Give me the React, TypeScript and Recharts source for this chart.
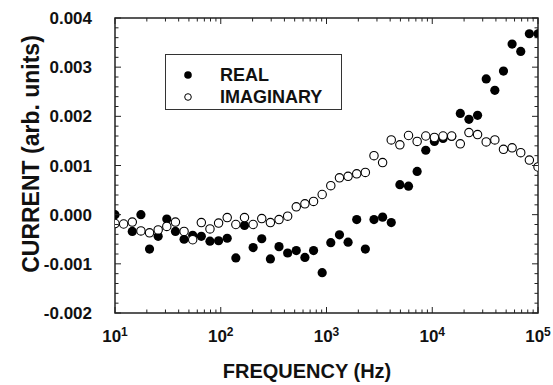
import { ScatterChart, Scatter, XAxis, YAxis, Legend, ReferenceArea } from 'recharts'

// frequencies (Hz)
const freq = [
  10, 12.07, 14.57, 17.58, 21.21, 25.6, 30.89, 37.28, 44.99, 54.29,
  65.52, 79.07, 95.41, 115.1, 138.9, 167.7, 202.4, 244.2, 294.7, 355.6,
  429.2, 517.9, 625.0, 754.3, 910.2, 1098, 1326, 1600, 1931, 2330,
  2812, 3393, 4095, 4942, 5964, 7197, 8685, 10481, 12649, 15264,
  18420, 22230, 26827, 32375, 39070, 47149, 56899, 68665, 82864, 100000,
]

// filled circles (null = not visible in the figure)
const real = [
  0.0, null, -0.00034, 0.0, -0.0007, -0.00044, -0.00009, -0.00034, -0.0005, -0.00042,
  -0.00044, -0.00054, -0.00053, -0.00048, -0.00088, -0.00022, -0.00067, -0.00049, -0.0009, -0.00065,
  -0.00078, -0.00073, -0.00087, -0.00073, -0.00118, -0.00057, -0.00041, -0.00056, -0.0001, -0.0007,
  -0.0001, -0.00005, -0.00016, 0.00061, 0.00058, 0.00088, 0.00131, 0.00149, 0.00155, 0.00159,
  0.00206, 0.00194, 0.00202, 0.00276, 0.00253, 0.00292, 0.00347, 0.00332, 0.00368, 0.00368,
]

// open circles
const imaginary = [
  -0.00018, -0.00019, -0.00015, -0.00033, -0.00037, -0.00031, -0.00024, -0.00015, -0.00034, -0.00051,
  -0.00016, -0.00029, -0.00017, -0.00006, -0.0002, -0.00006, -0.0002, -0.00008, -0.00016, -0.0001,
  -0.00003, 0.00016, 0.00022, 0.00027, 0.00041, 0.00059, 0.00075, 0.00078, 0.00083, 0.00086,
  0.0012, 0.00106, 0.00152, 0.00142, 0.00161, 0.00149, 0.0016, 0.00157, 0.0016, 0.0016,
  0.00144, 0.00167, 0.00163, 0.00148, 0.00152, 0.00133, 0.00136, 0.00126, 0.00111, 0.00097,
]

const xDecades = [10, 100, 1000, 10000, 100000]
const yMajor = [-0.002, -0.001, 0, 0.001, 0.002, 0.003, 0.004]

const realData = freq.map((f, i) => ({ f, v: real[i] })).filter(d => d.v !== null)
const imagData = freq.map((f, i) => ({ f, v: imaginary[i] }))

const xTicks = xDecades.flatMap(d => [1, 2, 3, 4, 5, 6, 7, 8, 9].map(k => k * d)).filter(t => t <= 100000)
const yTicks = yMajor.flatMap((m, i) => (i < yMajor.length - 1 ? [0, 1, 2, 3, 4].map(k => m + k * 0.0002) : [m]))

const FONT = "'Liberation Sans', Arial, sans-serif"
const INK = '#111'
const FRAME = '#222'

// plot box size (chart 553x385, margins below) - used to mirror ticks on top/right
const PLOT_W = 553 - 115 - 15
const PLOT_H = 385 - 18 - 72

const isMajorY = (v: number) => Math.abs(v * 1000 - Math.round(v * 1000)) < 1e-6

function BottomTick({ x, y, payload }: any) {
  const v = payload.value
  const major = xDecades.includes(v)
  const len = major ? 6 : 3.5
  return (
    <g>
      <line x1={x} x2={x} y1={y} y2={y - len} stroke={FRAME} strokeWidth={1} />
      <line x1={x} x2={x} y1={y - PLOT_H} y2={y - PLOT_H + len} stroke={FRAME} strokeWidth={1} />
      {major && (
        <text x={x} y={y + 29} textAnchor="middle" fontFamily={FONT} fontWeight="bold" fontSize={17} fill={INK}>
          10<tspan dy={-6} fontSize={12}>{Math.round(Math.log10(v))}</tspan>
        </text>
      )}
    </g>
  )
}

function LeftTick({ x, y, payload }: any) {
  const v = payload.value
  const major = isMajorY(v)
  const len = major ? 6 : 3.5
  return (
    <g>
      <line x1={x} x2={x + len} y1={y} y2={y} stroke={FRAME} strokeWidth={1} />
      <line x1={x + PLOT_W} x2={x + PLOT_W - len} y1={y} y2={y} stroke={FRAME} strokeWidth={1} />
      {major && (
        <text x={x - 23} y={y + 6} textAnchor="end" fontFamily={FONT} fontWeight="bold" fontSize={17} fill={INK}>
          {v.toFixed(3)}
        </text>
      )}
    </g>
  )
}

const FilledDot = (p: any) => <circle cx={p.cx} cy={p.cy} r={4.6} fill="#000" />
const OpenDot = (p: any) => <circle cx={p.cx} cy={p.cy} r={4.2} fill="#fff" stroke="#000" strokeWidth={1.1} />

function LegendBox() {
  const row = (label: string, filled: boolean, top: number) => (
    <div style={{ position: 'absolute', left: 0, top, height: 22, width: '100%' }}>
      <svg width={10} height={10} style={{ position: 'absolute', left: 17, top: 6 }}>
        {filled
          ? <circle cx={5} cy={5} r={3.8} fill="#000" />
          : <circle cx={5} cy={5} r={3.3} fill="#fff" stroke="#000" strokeWidth={1} />}
      </svg>
      <span style={{ position: 'absolute', left: 54, top: 0, lineHeight: '22px' }}>{label}</span>
    </div>
  )
  return (
    <div style={{
      position: 'relative', width: 177, height: 56, boxSizing: 'border-box', border: '1.5px solid #333',
      background: '#fff', fontFamily: FONT, fontWeight: 'bold', fontSize: 18, color: INK,
    }}>
      {row('REAL', true, 9)}
      {row('IMAGINARY', false, 31)}
    </div>
  )
}

export default function App() {
  return (
    <div style={{ position: 'absolute', left: 0, top: 0, width: 553, height: 385, background: '#fff' }}>
      <ScatterChart width={553} height={385} margin={{ top: 18, right: 15, bottom: 0, left: 0 }}>
        <XAxis
          dataKey="f" type="number" scale="log" domain={[10, 100000]} allowDataOverflow
          ticks={xTicks} interval={0} height={72} tickSize={0} tickMargin={0}
          tickLine={false} axisLine={false} tick={<BottomTick />}
        />
        <YAxis
          dataKey="v" type="number" domain={[-0.002, 0.004]} allowDataOverflow
          ticks={yTicks} interval={0} width={115} tickSize={0} tickMargin={0}
          tickLine={false} axisLine={false} tick={<LeftTick />}
        />
        <ReferenceArea
          x1={10} x2={100000} y1={-0.002} y2={0.004} ifOverflow="visible"
          fill="none" fillOpacity={0} stroke={FRAME} strokeWidth={1.5}
        />
        <Legend
          layout="vertical" align="center" verticalAlign="middle"
          wrapperStyle={{ left: 165, top: 54, width: 177, height: 56 }}
          content={() => <LegendBox />}
        />
        <Scatter name="REAL" data={realData} shape={FilledDot} isAnimationActive={false} />
        <Scatter name="IMAGINARY" data={imagData} shape={OpenDot} isAnimationActive={false} />
      </ScatterChart>
      <div style={{
        position: 'absolute', left: 0, width: 614, top: 359, textAlign: 'center',
        fontFamily: FONT, fontWeight: 'bold', fontSize: 20, color: INK, lineHeight: '24px',
      }}>
        FREQUENCY (Hz)
      </div>
      <div style={{
        position: 'absolute', left: 31, top: 154, width: 320, marginLeft: -160, marginTop: -13,
        transform: 'rotate(-90deg)', textAlign: 'center',
        fontFamily: FONT, fontWeight: 'bold', fontSize: 23, color: INK, lineHeight: '26px',
      }}>
        CURRENT (arb. units)
      </div>
    </div>
  )
}
